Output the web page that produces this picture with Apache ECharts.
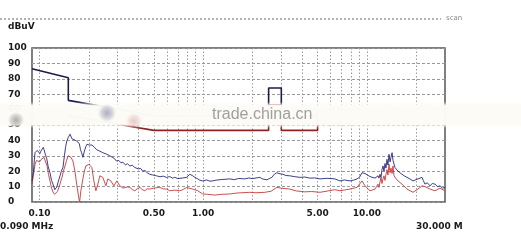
<!DOCTYPE html>
<html>
<head>
<meta charset="utf-8">
<script src="https://cdn.jsdelivr.net/npm/echarts@6/dist/echarts.min.js"></script>
<style>
html,body{margin:0;padding:0;background:#fff;}
#c{width:521px;height:247px;}
</style>
</head>
<body>
<div id="c"></div>
<script>
// ---- data ----
const xLabelValues = [0.1, 0.5, 1, 5, 10];
const gridFreqs = [0.1,0.2,0.3,0.4,0.5,0.6,0.7,0.8,0.9,1,2,3,4,5,6,7,8,9,10,20];
const yTicks = [0,10,20,30,40,50,60,70,80,90,100];

const qpFreq  = [0.09, 0.15, 0.15, 0.5, 2.51, 2.51, 3.0, 3.0, 5.0];
const qpLevel = [86.5, 80.7, 66, 56, 56, 74, 74, 56, 56];
const avFreq  = [0.15, 0.5, 2.51, 2.51, 3.0, 3.0, 5.0, 5.0];
const avLevel = [56, 46.5, 46.5, 63, 63, 46.5, 46.5, 58];

const blueFreq = [0.090,0.0917,0.0928,0.0939,0.0955,0.0968,0.0979,0.1005,0.1020,0.1036,0.1055,0.1066,0.1085,0.1108,0.1130,0.1159,0.1185,0.1209,0.1240,0.1261,0.1274,0.1300,0.1335,0.1360,0.1392,0.1420,0.1445,0.1467,0.1500,0.1536,0.1560,0.1580,0.1601,0.1630,0.1660,0.1686,0.1724,0.1750,0.1780,0.1808,0.1841,0.1880,0.1920,0.1950,0.1983,0.2010,0.2050,0.2090,0.2128,0.2170,0.2231,0.2280,0.2337,0.2390,0.2438,0.2500,0.2580,0.2690,0.2760,0.2850,0.2955,0.3050,0.3140,0.3230,0.3350,0.3450,0.3563,0.3700,0.3822,0.3915,0.4020,0.4150,0.4277,0.4400,0.4550,0.4718,0.4900,0.5184,0.5450,0.5700,0.5965,0.6250,0.6500,0.6702,0.7000,0.7189,0.7500,0.7937,0.8278,0.8450,0.8635,0.8900,0.9262,0.9528,0.9938,1.050,1.100,1.1435,1.200,1.300,1.4535,1.550,1.650,1.7965,1.900,2.000,2.2206,2.300,2.4492,2.530,2.6267,2.720,2.8170,2.900,3.0663,3.200,3.3832,3.600,3.8977,4.1813,4.4855,4.800,5.1664,5.700,6.3795,6.8436,7.300,7.8828,8.300,8.7033,9.000,9.3347,9.7365,10.014,10.447,10.745,11.208,11.527,11.69,11.85,12.023,12.195,12.36,12.543,12.72,12.90,13.08,13.268,13.45,13.646,13.85,14.036,14.25,14.436,14.65,14.847,15.1,15.486,15.9,16.384,16.9,17.576,18.3,19.119,20.513,21.697,22.1,22.632,23.4,24.278,25.1,26.041,27.0,27.94,29.0,30.0];
const blueLevel = [13.7,19,26,32,31,33.5,33,31.5,33,32,35.5,34,31,28,23,19,14,11.6,8,8.4,9.7,13,17,20,22.6,30,36,39.5,42,44,43,41,42,40.5,41,39.5,40.6,38,34,32,29,33,36,37.5,38.7,37,38,37,37.4,35.5,34,34.5,33,33.5,32,32.5,31,30,29,28.5,26.6,27,25.5,25.8,24.2,24.8,23.4,23.8,22.4,22.6,21.5,21.8,20,20.5,19,18,17.6,17,16.4,16.8,16,16.5,15.5,16,15.2,15,15.6,16,18,17.2,17,16,15,14.2,13.7,14.3,13.5,13.7,14.2,14.6,15,14.5,15.3,15,15.6,15.2,16,15,14.4,15.2,16,18,19,18.5,18,17.2,17,16.5,16,16.2,15.5,15.6,15,15.4,15,13.7,14.3,13.7,14.2,15,16,19,18.5,18,16.5,16,15.5,15,17,15.5,18,16,21,23.4,20,25,22,27.7,24,31,26,29,32,27,28,22.4,23,20,19,18,17,16,15,13.7,15,16,14,11.6,12.5,10.5,12,11.6,10,10.5,9,9.5];

const redFreq = [0.090,0.0917,0.0939,0.0960,0.0979,0.1000,0.1020,0.1036,0.1066,0.1090,0.1113,0.1135,0.1159,0.1185,0.1209,0.1235,0.1261,0.1290,0.1316,0.1345,0.1373,0.1400,0.1432,0.1465,0.1494,0.1530,0.1557,0.1580,0.1601,0.1646,0.1693,0.1741,0.1760,0.1790,0.1841,0.1880,0.1920,0.2003,0.2040,0.2089,0.2149,0.2210,0.2273,0.2337,0.2370,0.2438,0.2543,0.2616,0.2728,0.2845,0.2967,0.3097,0.3230,0.3322,0.3450,0.3563,0.3700,0.3822,0.3950,0.4100,0.4250,0.4399,0.4550,0.4718,0.5000,0.5430,0.5700,0.5990,0.6248,0.6702,0.7189,0.7500,0.7937,0.8278,0.8635,0.9262,0.9938,1.060,1.1761,1.300,1.4535,1.600,1.9264,2.100,2.3813,2.600,2.8170,3.000,3.3832,3.700,4.1813,4.600,5.1664,5.800,6.3795,6.8436,7.300,7.8828,8.7033,9.3347,9.7365,10.447,11.208,11.45,11.69,11.85,12.023,12.195,12.36,12.543,12.72,12.90,13.08,13.268,13.45,13.646,13.85,14.036,14.25,14.436,14.65,14.847,15.1,15.486,16.384,17.576,19.119,20.513,21.697,22.632,24.278,26.041,27.94,30.0];
const redLevel = [11.6,17,24.5,27,27.7,26,27.5,26.6,29,26,23.4,18,13.7,9,6.5,5,5,7,9.7,13,16,20,23.4,27,30,30.5,29,28,26.6,20,10.5,2,0.5,7.3,15,20,23.4,24.5,23.5,22.4,13.7,7.3,11.6,17,17,16,10.5,15,13.7,10.5,13.7,10.5,9,8.4,9.8,9.5,8,7.3,8.5,9.5,8,7.3,8.6,8.4,9,9.5,8.5,8.4,7.3,7.7,7.3,8,9.5,8.8,8.4,7.3,5.2,5,4.5,5,5.2,5.8,6.3,6,6.3,7,9.5,9,8.4,7.2,6.6,6.8,6.3,7.2,8,7.3,7.8,8.4,9.5,13.7,10.5,7.3,8.4,10,11.6,9.5,13,16,12,15,17,14,18,21,17.5,24.5,19,22,18.5,23.4,17,18,15,13.7,11.6,8.4,6.3,8.4,10.5,10,8.4,7.3,9,7.3];

function pairs(xs, ys){ return xs.map((x,i)=>[x, ys[i]]); }

const chart = echarts.init(document.getElementById('c'), null, {renderer:'canvas'});
const labelFont = {fontFamily:'DejaVu Sans', fontWeight:'bold', fontSize:9, color:'#1a1a1a'};

function blob(x, y, w, h, rgb, a){
  return {type:'rect', z:62, shape:{x:x, y:y, width:w, height:h},
    style:{fill:new echarts.graphic.RadialGradient(0.5,0.5,0.5,[
      {offset:0,color:'rgba('+rgb+','+a+')'},
      {offset:0.6,color:'rgba('+rgb+','+(a*0.5)+')'},
      {offset:1,color:'rgba('+rgb+',0)'}])}};
}

chart.setOption({
  animation:false,
  backgroundColor:'#fff',
  grid:{left:32, top:48, right:76, bottom:45, show:true, borderColor:'#555', borderWidth:1.5, backgroundColor:'transparent'},
  xAxis:{
    type:'log', logBase:10, min:0.09, max:30,
    axisLine:{show:false},
    axisTick:{show:false, customValues:gridFreqs},
    axisLabel:Object.assign({customValues:xLabelValues, margin:7, formatter:v=>Number(v).toFixed(2)}, labelFont),
    splitLine:{show:true, lineStyle:{color:'#9a9a9a', width:1, type:[1.5,2]}},
    minorSplitLine:{show:false}
  },
  yAxis:{
    type:'value', min:0, max:100, interval:10,
    axisLine:{show:false}, axisTick:{show:false},
    axisLabel:Object.assign({align:'left', margin:24}, labelFont),
    splitLine:{show:true, lineStyle:{color:'#9a9a9a', width:1, type:[3,2]}}
  },
  series:[
    {type:'line', name:'AV trace', data:pairs(redFreq, redLevel), showSymbol:false, lineStyle:{color:'#c43a3a', width:0.9}, z:3},
    {type:'line', name:'QP trace', data:pairs(blueFreq, blueLevel), showSymbol:false, lineStyle:{color:'#28287e', width:0.9}, z:4},
    {type:'line', name:'AV limit', data:pairs(avFreq, avLevel), showSymbol:false, lineStyle:{color:'#8c2424', width:1.6}, z:5},
    {type:'line', name:'QP limit', data:pairs(qpFreq, qpLevel), showSymbol:false, lineStyle:{color:'#1c1c48', width:1.6}, z:6}
  ],
  graphic:[
    {type:'line', z:50, shape:{x1:0,y1:19,x2:441,y2:19}, style:{stroke:'#666', lineWidth:1, lineDash:[2,2]}},
    {type:'text', z:50, left:446, top:15, style:{text:'scan', font:'7px "DejaVu Sans"', fill:'#888'}},
    {type:'text', z:50, left:8, top:22, style:{text:'dBuV', font:'bold 9px "DejaVu Sans"', fill:'#1a1a1a'}},
    {type:'text', z:50, left:0, top:222, style:{text:'0.090 MHz', font:'bold 9px "DejaVu Sans"', fill:'#1a1a1a'}},
    {type:'text', z:50, left:416, top:222, style:{text:'30.000 M', font:'bold 9px "DejaVu Sans"', fill:'#1a1a1a'}},
    {type:'rect', z:60, shape:{x:0,y:102,width:521,height:26},
      style:{fill:new echarts.graphic.LinearGradient(0,0,0,1,[
        {offset:0,color:'rgba(252,251,246,0)'},
        {offset:0.14,color:'rgba(252,251,246,0.98)'},
        {offset:0.86,color:'rgba(252,251,246,0.98)'},
        {offset:1,color:'rgba(252,251,246,0)'}])}},
    blob(5, 112, 22, 16, '110,110,110', 0.55),
    blob(94, 104, 26, 18, '80,80,130', 0.45),
    blob(118, 113, 32, 16, '200,130,130', 0.4),
    {type:'text', z:63, left:212, top:107, style:{text:'trade.china.cn', font:'16px "Liberation Sans"', fill:'#a0a0a0'}}
  ]
});
</script>
</body>
</html>
